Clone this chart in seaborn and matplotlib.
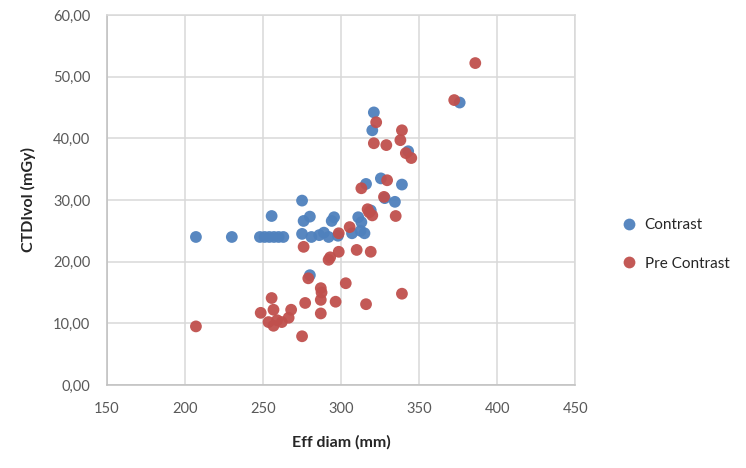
import matplotlib
matplotlib.use("Agg")
import matplotlib.pyplot as plt
from matplotlib.ticker import FuncFormatter, MultipleLocator
import seaborn as sns
import pandas as pd

# Effective diameter (mm) and CTDIvol (mGy) per scan
contrast_diam = [207, 230, 248, 251, 254, 257, 260, 263, 255.5, 275, 276, 280,
                 275, 281, 286, 289, 292, 294, 295.5, 298, 307, 311, 313, 312.5,
                 315, 316, 319, 321, 320, 325.5, 339, 334.5, 343, 376, 280, 328]
contrast_ctdi = [24.0, 24.0, 24.0, 24.0, 24.0, 24.0, 24.0, 24.0, 27.4, 29.9, 26.6, 27.3,
                 24.5, 24.0, 24.3, 24.7, 24.0, 26.6, 27.2, 24.2, 24.6, 27.2, 26.4, 25.0,
                 24.6, 32.6, 28.3, 44.2, 41.3, 33.5, 32.5, 29.7, 37.9, 45.8, 17.8, 30.3]

pre_diam = [207, 248.5, 255.5, 256.7, 253.5, 256.7, 259, 262, 266.4, 268, 277, 275,
            279, 276, 287, 287.5, 287, 287, 292, 296.5, 298.5, 298.5, 303, 305.5,
            310, 313, 316, 318, 320, 319, 322.5, 321, 329, 339, 338, 341.5, 345,
            329.5, 327.5, 335, 339, 372.5, 386, 317, 293]
pre_ctdi = [9.5, 11.7, 14.1, 12.2, 10.2, 9.6, 10.5, 10.2, 10.9, 12.2, 13.3, 7.9,
            17.3, 22.4, 15.7, 15.0, 13.8, 11.6, 20.3, 13.5, 21.6, 24.6, 16.5, 25.6,
            21.9, 31.9, 13.1, 28.0, 27.5, 21.6, 42.6, 39.2, 38.9, 41.3, 39.7, 37.6, 36.8,
            33.2, 30.5, 27.4, 14.8, 46.2, 52.2, 28.5, 20.7]

series_names = ["Contrast", "Pre Contrast"]
palette = {"Contrast": "#4F81BD", "Pre Contrast": "#C0504D"}

df = pd.concat([
    pd.DataFrame({"Eff diam (mm)": contrast_diam, "CTDIvol (mGy)": contrast_ctdi,
                  "series": series_names[0]}),
    pd.DataFrame({"Eff diam (mm)": pre_diam, "CTDIvol (mGy)": pre_ctdi,
                  "series": series_names[1]}),
], ignore_index=True)

sns.set_theme(style="white")
plt.rcParams["font.family"] = ["Lato", "DejaVu Sans"]

fig = plt.figure(figsize=(7.46, 4.68), dpi=100)
ax = fig.add_axes([0.1434, 0.1774, 0.771 - 0.1434, 0.968 - 0.1774])

sns.scatterplot(data=df, x="Eff diam (mm)", y="CTDIvol (mGy)", hue="series",
                hue_order=series_names, palette=palette, s=72, linewidth=0,
                alpha=0.95, ax=ax, zorder=3)

ax.set_xlim(150, 450)
ax.set_ylim(0, 60)
ax.xaxis.set_major_locator(MultipleLocator(50))
ax.yaxis.set_major_locator(MultipleLocator(10))
ax.yaxis.set_major_formatter(FuncFormatter(lambda v, _: f"{v:.2f}".replace(".", ",")))
ax.grid(True, color="#D9D9D9", linewidth=1.1, zorder=0)
ax.set_axisbelow(True)
for sp in ax.spines.values():
    sp.set_color("#D9D9D9")
    sp.set_linewidth(1.1)
ax.spines["left"].set_color("#BFBFBF")
ax.spines["bottom"].set_color("#BFBFBF")

ax.tick_params(axis="both", labelsize=10.5, colors="#595959", length=0, pad=12)
ax.set_xlabel("Eff diam (mm)", fontsize=11.5, fontweight="bold", color="#262626", labelpad=14)
ax.set_ylabel("CTDIvol (mGy)", fontsize=11.5, fontweight="bold", color="#262626", labelpad=12)

leg = ax.legend(loc="center left", bbox_to_anchor=(0.815, 0.478), bbox_transform=fig.transFigure,
                frameon=False, fontsize=11, handletextpad=0.0, labelspacing=1.6,
                markerscale=1.0, borderaxespad=0)
for t in leg.get_texts():
    t.set_color("#262626")

fig.savefig("out.png", dpi=100)
